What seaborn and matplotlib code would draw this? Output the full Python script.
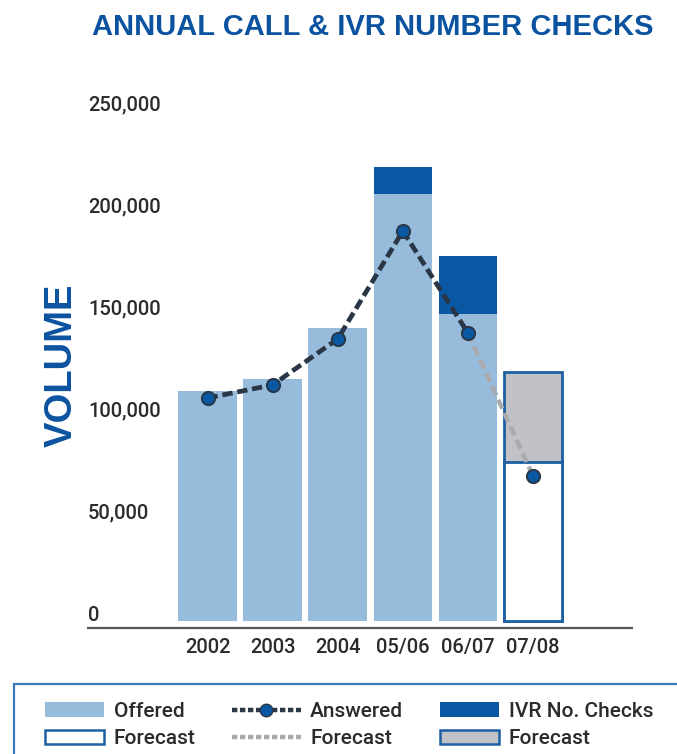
import matplotlib
matplotlib.use("Agg")
import matplotlib.pyplot as plt
from matplotlib.patches import Patch, Rectangle
from matplotlib.lines import Line2D
import seaborn as sns
import numpy as np

# ---- data -------------------------------------------------------------
years = ["2002", "2003", "2004", "05/06", "06/07", "07/08"]
offered = [112500, 118400, 143300, 208900, 150200, 77800]   # 07/08 is forecast
ivr_checks = [0, 0, 0, 13200, 28400, 44000]                  # 07/08 is forecast
answered = [109100, 115500, 138000, 190800, 140900, 70900]  # 07/08 is forecast
y_ticks = [0, 50000, 100000, 150000, 200000, 250000]
y_tick_labels = ["0", "50,000", "100,000", "150,000", "200,000", "250,000"]

# ---- style ------------------------------------------------------------
sns.set_style("white")
plt.rcParams["font.family"] = ["Roboto", "Liberation Sans", "DejaVu Sans"]
BODY_WEIGHT = "medium"

LIGHT = "#97bbda"
DARK = "#0a58a4"
GREY_FILL = "#c0c2c7"
EDGE_BLUE = "#1d5fa3"
LINE_DARK = "#283646"
LINE_GREY = "#a9abae"
TITLE_BLUE = "#0b53a0"
TEXT = "#2b2b2b"

fig = plt.figure(figsize=(6.77, 7.54), dpi=100)
W, H = 677, 754
ax = fig.add_axes([88 / W, (H - 628) / H, 544 / W, (628 - 110) / H])

n = len(years)
totals = [o + i for o, i in zip(offered, ivr_checks)]
total_colors = [DARK] * (n - 1) + [GREY_FILL]
offered_colors = [LIGHT] * (n - 1) + ["white"]

# stacked bars: full height first, offered portion on top
sns.barplot(x=years, y=totals, hue=years, palette=total_colors, legend=False,
            width=0.9, saturation=1, linewidth=0, ax=ax, zorder=1)
sns.barplot(x=years, y=offered, hue=years, palette=offered_colors, legend=False,
            width=0.9, saturation=1, linewidth=0, ax=ax, zorder=2)
for p in ax.patches:
    if abs(p.get_x() + p.get_width() / 2 - (n - 1)) < 0.01:
        p.set_edgecolor(EDGE_BLUE)
        p.set_linewidth(2.0)

# answered calls: actuals dark, forecast segment grey
xs = np.arange(n)
ax.plot(xs[n - 2:], answered[n - 2:], color=LINE_GREY, lw=3.2,
        linestyle=(0, (2.2, 1.1)), zorder=3)
sns.lineplot(x=xs[:n - 1], y=answered[:n - 1], color=LINE_DARK, lw=3.4,
             linestyle=(0, (2.2, 1.0)), ax=ax, zorder=4)
ax.plot(xs, answered, linestyle="none", marker="o", markersize=9.5,
        markerfacecolor=DARK, markeredgecolor=LINE_DARK, markeredgewidth=1.4,
        zorder=5)

# axes
ax.set_xlim(-1.836, 6.52)
ax.set_ylim(-3425, 250000)
ax.set_yticks(y_ticks)
ax.set_yticklabels(y_tick_labels, fontweight=BODY_WEIGHT)
ax.tick_params(axis="y", length=0, pad=0, labelsize=14.5, labelcolor=TEXT)
for lab in ax.get_yticklabels():
    lab.set_horizontalalignment("left")
    lab.set_verticalalignment("baseline")
ax.set_xticks(range(n))
ax.set_xticklabels(years, fontweight=BODY_WEIGHT)
ax.tick_params(axis="x", length=0, pad=7, labelsize=14.5, labelcolor=TEXT)
ax.set_xlabel("")
ax.set_ylabel("")
for side in ("top", "right", "left"):
    ax.spines[side].set_visible(False)
ax.spines["bottom"].set_color("#555555")
ax.spines["bottom"].set_linewidth(1.6)

# titles
title_font = ["Liberation Sans", "DejaVu Sans"]
fig.text(92 / W, 1 - 13 / H, "ANNUAL CALL & IVR NUMBER CHECKS", ha="left",
         va="top", fontsize=21, fontweight="bold", color=TITLE_BLUE,
         family=title_font)
fig.text(62 / W, 1 - 365 / H, "VOLUME", rotation=90, ha="center",
         va="center", fontsize=27.5, fontweight="bold", color=TITLE_BLUE,
         family=title_font)

# legend frame (runs off the right and bottom edges)
fig.patches.append(Rectangle((14 / W, -0.05), 1.0, (H - 684) / H + 0.05,
                             transform=fig.transFigure, fill=False,
                             edgecolor="#3a78b8", linewidth=1.6))

dash = (0, (1.2, 0.6))
legend_cols = [
    (45, [Patch(facecolor=LIGHT, edgecolor="none"),
          Patch(facecolor="white", edgecolor=EDGE_BLUE, linewidth=1.8)],
     ["Offered", "Forecast"]),
    (232, [Line2D([], [], color=LINE_DARK, lw=3.2, linestyle=dash,
                  marker="o", markersize=9, markerfacecolor=DARK,
                  markeredgecolor=LINE_DARK),
           Line2D([], [], color=LINE_GREY, lw=3.2, linestyle=dash)],
     ["Answered", "Forecast"]),
    (440, [Patch(facecolor=DARK, edgecolor="none"),
           Patch(facecolor=GREY_FILL, edgecolor=EDGE_BLUE, linewidth=1.8)],
     ["IVR No. Checks", "Forecast"]),
]
for x0, hs, ls in legend_cols:
    hl = 3.3 if x0 == 232 else 2.85
    fig.legend(hs, ls, ncol=1, loc="upper left",
               bbox_to_anchor=(x0 / W, 1 - 702 / H), frameon=False,
               prop={"size": 15, "weight": BODY_WEIGHT},
               handlelength=hl, handleheight=0.7,
               handletextpad=0.45, labelspacing=0.4, borderpad=0,
               borderaxespad=0, labelcolor=TEXT)

fig.savefig("out.png", dpi=100)
